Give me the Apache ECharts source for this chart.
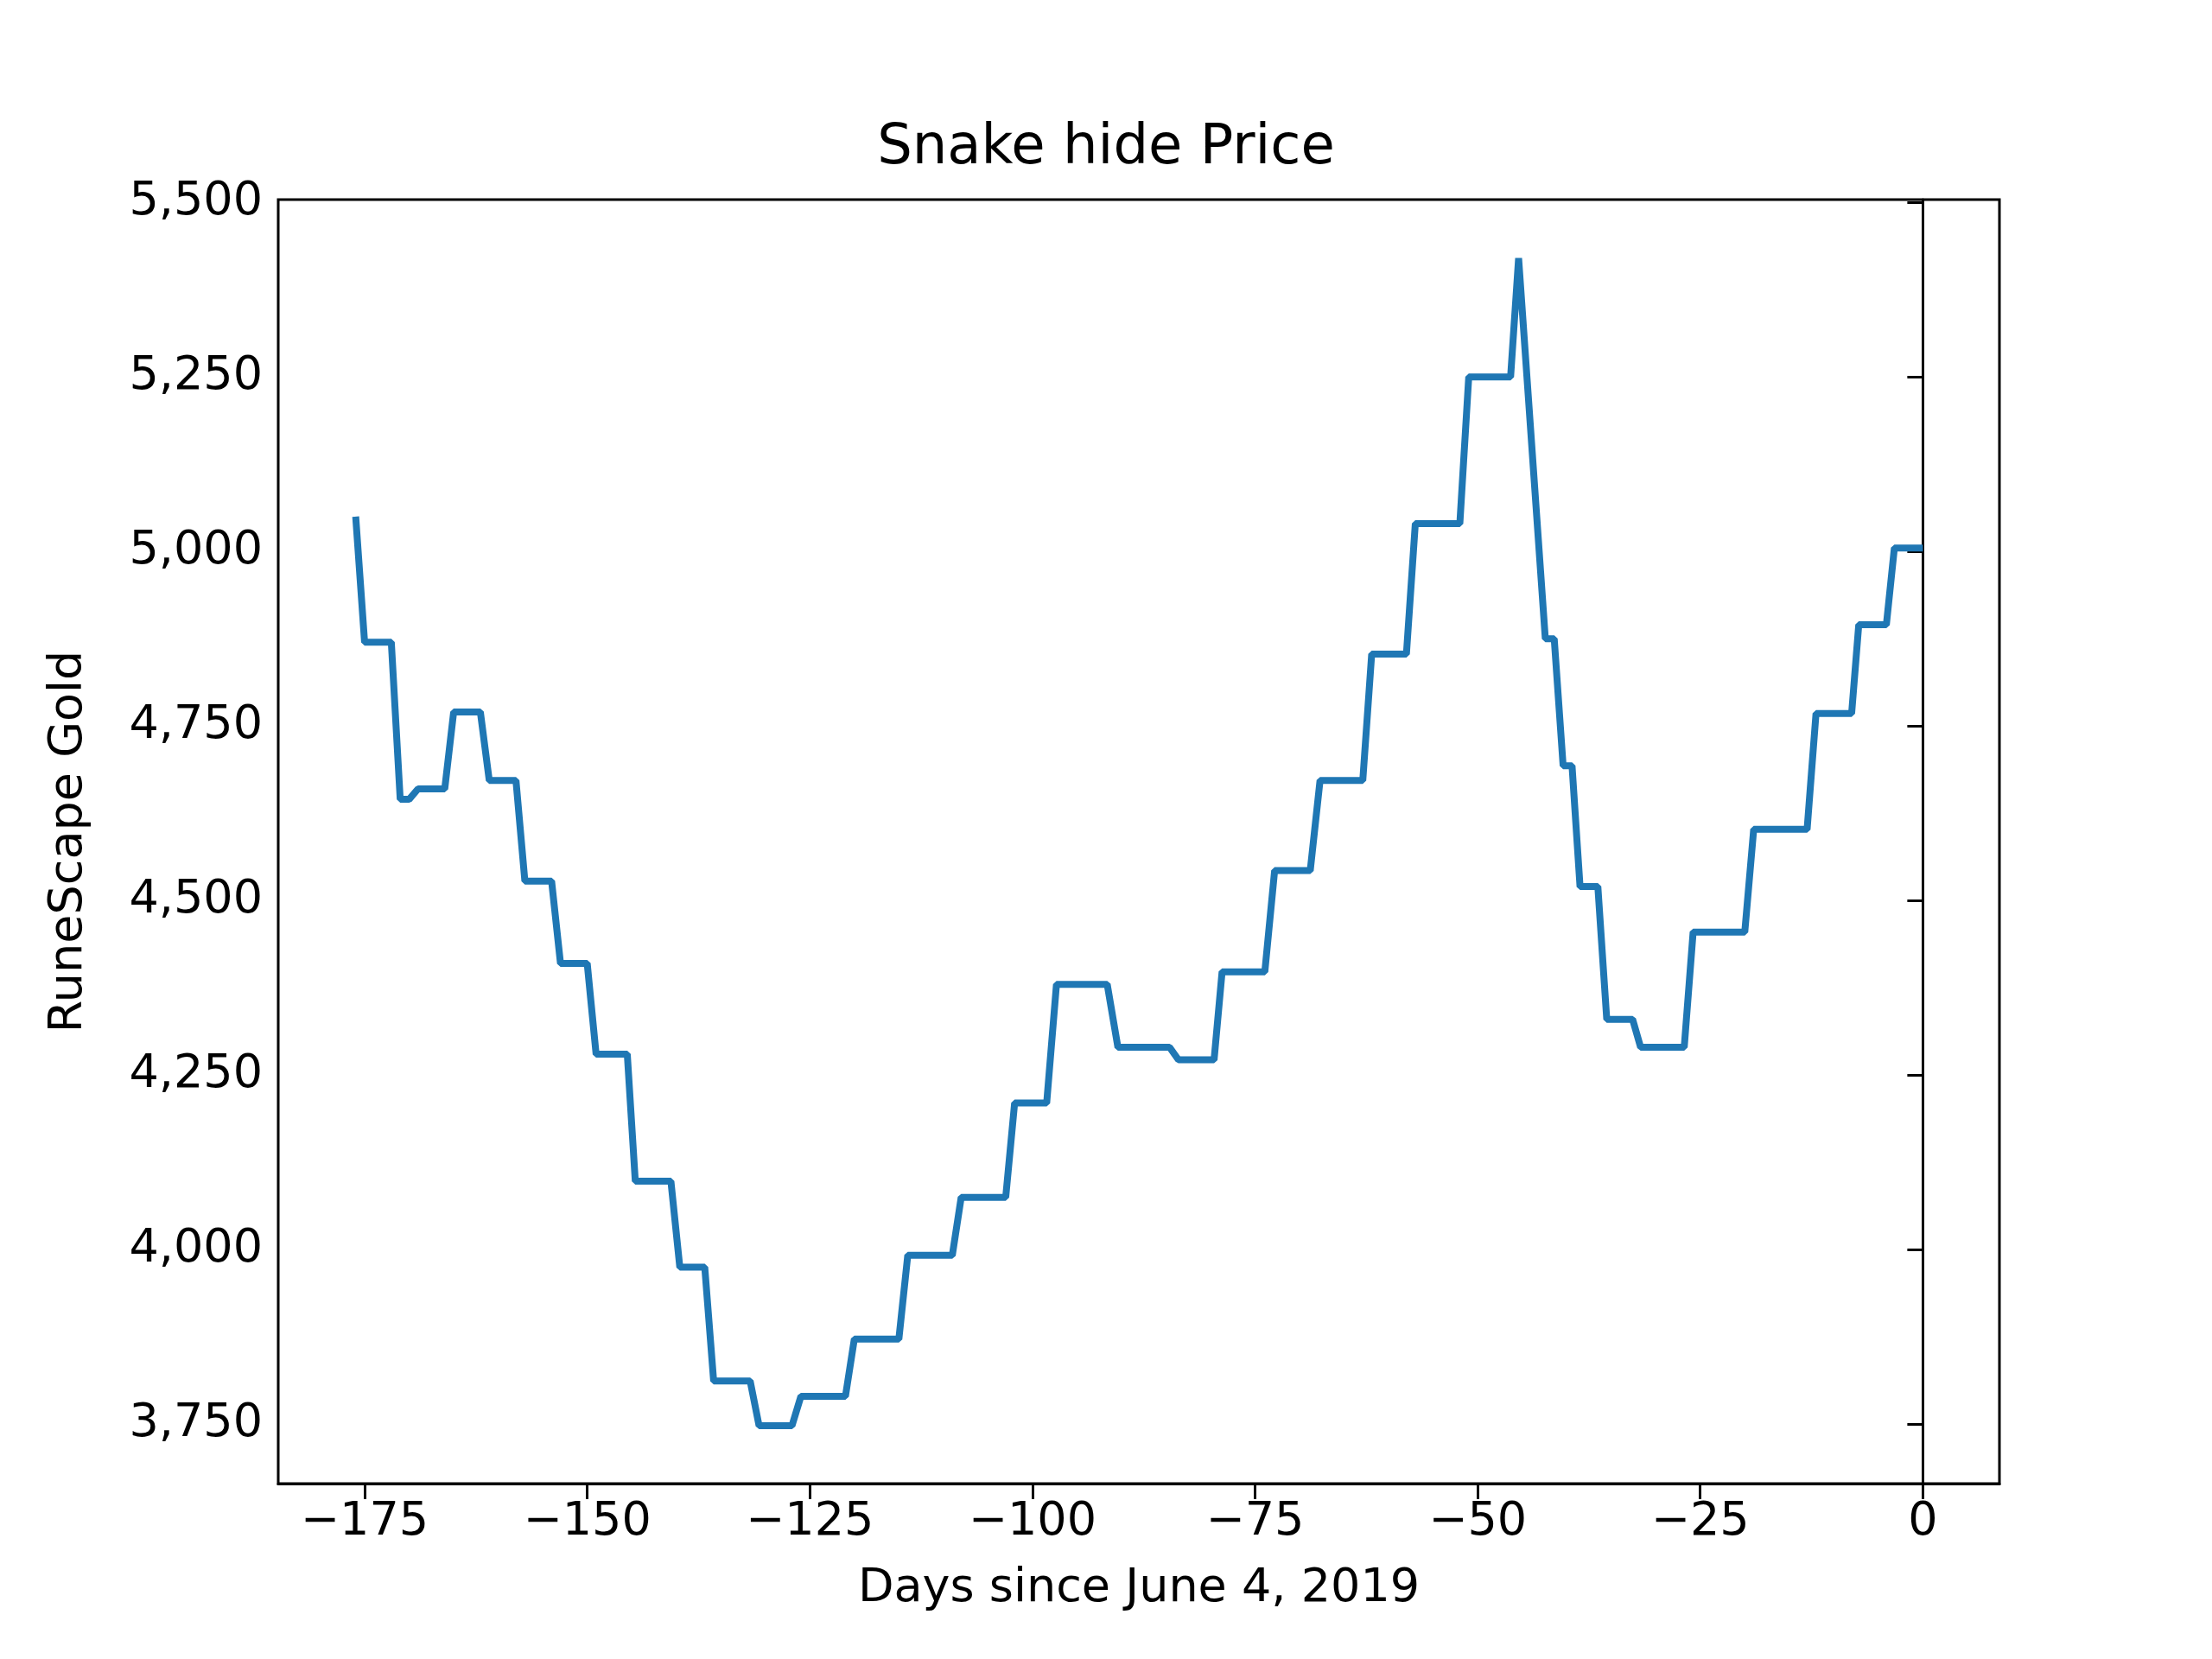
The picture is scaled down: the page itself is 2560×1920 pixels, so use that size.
<!DOCTYPE html>
<html><head><meta charset="utf-8">
<script src="https://cdn.jsdelivr.net/npm/echarts@6/dist/echarts.min.js"></script>
<style>html,body{margin:0;background:#fff}#c{width:2560px;height:1920px}</style>
</head><body><div id="c"></div>
<script>
const days = [-176,-175,-172,-171,-170,-169,-166,-165,-162,-161,-158,-157,-154,-153,-150,-149,-145.5,-144.6,-140.6,-139.6,-136.8,-135.8,-131.7,-130.7,-127,-126,-121,-120,-115,-114,-109,-108,-103,-102,-98.4,-97.3,-91.6,-90.4,-84.6,-83.6,-79.6,-78.7,-73.9,-72.8,-68.8,-67.7,-62.9,-61.9,-58,-57,-52,-51,-46.3,-45.4,-42.4,-41.4,-40.4,-39.4,-38.5,-36.5,-35.5,-32.6,-31.7,-26.8,-25.8,-20,-19,-13,-12,-8,-7.2,-4.1,-3.2,0];
const prices = [5050,4870,4870,4645,4645,4660,4660,4770,4770,4672,4672,4528,4528,4410,4410,4280,4280,4098,4098,3975,3975,3812,3812,3748,3748,3790,3790,3872,3872,3992,3992,4075,4075,4210,4210,4380,4380,4290,4290,4272,4272,4398,4398,4543,4543,4672,4672,4853,4853,5040,5040,5250,5250,5420,4875,4875,4693,4693,4520,4520,4330,4330,4290,4290,4455,4455,4602,4602,4768,4768,4895,4895,5005,5005];
const xTicks = [-175,-150,-125,-100,-75,-50,-25,0];
const yTicks = [3750,4000,4250,4500,4750,5000,5250,5500];
const F = 'DejaVu Sans';
const chart = echarts.init(document.getElementById('c'));
const minus = v => String(v).replace('-', '\u2212');
chart.setOption({
  animation:false,
  title:{text:'Snake hide Price',left:'center',top:135,textStyle:{fontFamily:F,fontSize:64,fontWeight:'normal',color:'#000'}},
  grid:{left:322,right:246,top:231,bottom:203},
  xAxis:{type:'value',min:-184.7,max:8.6,
    name:'Days since June 4, 2019',nameLocation:'middle',nameGap:95,
    nameTextStyle:{fontFamily:F,fontSize:54,color:'#000'},
    axisLine:{show:true,onZero:false,lineStyle:{color:'#000',width:3}},
    axisTick:{show:true,length:18,lineStyle:{color:'#000',width:3},customValues:xTicks},
    axisLabel:{fontFamily:F,fontSize:54,color:'#000',margin:18,customValues:xTicks,formatter:minus},
    splitLine:{show:false}},
  yAxis:{type:'value',min:3665,max:5504,
    name:'RuneScape Gold',nameLocation:'middle',nameGap:215,
    nameTextStyle:{fontFamily:F,fontSize:54,color:'#000'},
    axisLine:{show:true,lineStyle:{color:'#000',width:3}},
    axisTick:{show:true,length:18,lineStyle:{color:'#000',width:3},customValues:yTicks},
    axisLabel:{fontFamily:F,fontSize:54,color:'#000',margin:18,customValues:yTicks},
    splitLine:{show:false}},
  series:[{type:'line',showSymbol:false,data:days.map((d,i)=>[d,prices[i]]),
    lineStyle:{color:'#1f77b4',width:8}},
   {type:'line',data:[],markLine:{}}],
  graphic:[{type:'rect',shape:{x:322,y:231,width:2560-322-246,height:1920-231-203},style:{fill:'none',stroke:'#000',lineWidth:3},z:10}]
});
</script></body></html>
